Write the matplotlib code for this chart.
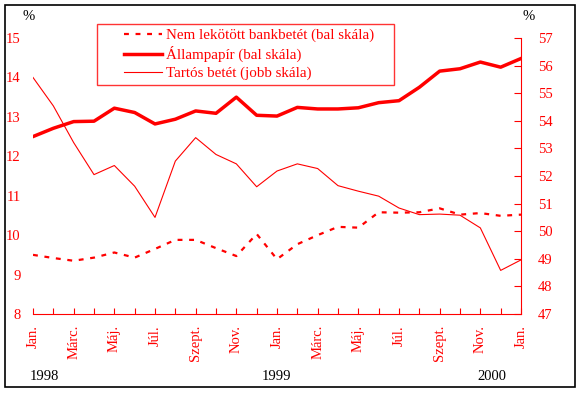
import matplotlib.pyplot as plt
from matplotlib.patches import Rectangle
from matplotlib.lines import Line2D
from matplotlib.legend_handler import HandlerLine2D

plt.rcParams['font.family'] = ['Liberation Serif', 'DejaVu Serif']

# havi adatok 1998 jan - 2000 jan
honapok = ['Jan.', 'Márc.', 'Máj.', 'Júl.', 'Szept.', 'Nov.',
           'Jan.', 'Márc.', 'Máj.', 'Júl.', 'Szept.', 'Nov.', 'Jan.']
evek = ['1998', '1999', '2000']

nem_lekotott = [9.50, 9.42, 9.35, 9.43, 9.56, 9.43, 9.65, 9.88, 9.88, 9.67,
                9.47, 10.03, 9.39, 9.77, 10.00, 10.21, 10.19, 10.58, 10.57,
                10.58, 10.68, 10.52, 10.56, 10.49, 10.52]
allampapir = [12.50, 12.71, 12.88, 12.89, 13.22, 13.11, 12.82, 12.94, 13.15,
              13.09, 13.50, 13.04, 13.02, 13.24, 13.20, 13.20, 13.23, 13.36,
              13.41, 13.75, 14.16, 14.22, 14.39, 14.26, 14.48]
tartos = [55.57, 54.54, 53.21, 52.05, 52.38, 51.63, 50.50, 52.54, 53.39,
          52.78, 52.44, 51.61, 52.18, 52.44, 52.27, 51.65, 51.45, 51.27,
          50.84, 50.60, 50.62, 50.58, 50.12, 48.58, 48.96]

piros = '#ff0000'
x = list(range(len(allampapir)))

fig = plt.figure(figsize=(5.81, 3.93), dpi=100)
ax = fig.add_axes([33/581, 1-314/393, 488/581, 276/393])
ax2 = ax.twinx()

l1, = ax.plot(x, nem_lekotott, color=piros, lw=1.6, linestyle=(0, (2.2, 3.0)))
l2, = ax.plot(x, allampapir, color=piros, lw=2.5)
l3, = ax2.plot(x, tartos, color=piros, lw=0.8)

ax.set_xlim(0, 24)
ax.set_ylim(8, 15)
ax2.set_ylim(47, 57)

for s in ['top', 'left', 'right']:
    ax.spines[s].set_visible(False)
    ax2.spines[s].set_visible(False)
ax2.spines['bottom'].set_visible(False)
ax2.spines['right'].set_visible(True)
ax2.spines['right'].set_color(piros)
ax.spines['bottom'].set_color(piros)

ax.set_xticks(x)
ax.set_xticklabels([honapok[i // 2] if i % 2 == 0 else '' for i in x],
                   rotation=90, color=piros, fontsize=10.5)
ax.tick_params(axis='x', direction='in', length=4, color=piros, pad=8)
ax.set_yticks(range(8, 16))
ax.tick_params(axis='y', length=0, labelcolor=piros, labelsize=10.5, pad=9)
ax2.set_yticks(range(47, 58))
ax2.tick_params(axis='y', direction='in', length=5, color=piros,
                labelcolor=piros, labelsize=10.5, pad=12)

fig.text(29/581, 1-17/393, '%', ha='center', va='center', fontsize=10.5)
fig.text(529/581, 1-17/393, '%', ha='center', va='center', fontsize=10.5)
for xp, ev in zip([44, 276, 492], evek):
    fig.text(xp/581, 1-376/393, ev, ha='center', va='center', fontsize=10.5)

leg = fig.legend([l1, l2, l3],
                 ['Nem lekötött bankbetét (bal skála)', 'Állampapír (bal skála)',
                  'Tartós betét (jobb skála)'],
                 loc='upper left', mode='expand',
                 bbox_to_anchor=(97/581, 1-83/393, 297/581, 59/393),
                 borderaxespad=0, fancybox=False, fontsize=10.8,
                 handlelength=4.0, handletextpad=0.3, labelspacing=0.27,
                 borderpad=0.3,
                 handler_map={Line2D: HandlerLine2D(xpad=1.5)})
leg.get_frame().set_edgecolor(piros)
leg.get_frame().set_linewidth(1.0)
for t in leg.get_texts():
    t.set_color(piros)

fig.patches.append(Rectangle((5/581, 1-387/393), 570/581, 382/393,
                             transform=fig.transFigure, fill=False,
                             edgecolor='black', lw=1.2))

fig.savefig('out.png', dpi=100)
